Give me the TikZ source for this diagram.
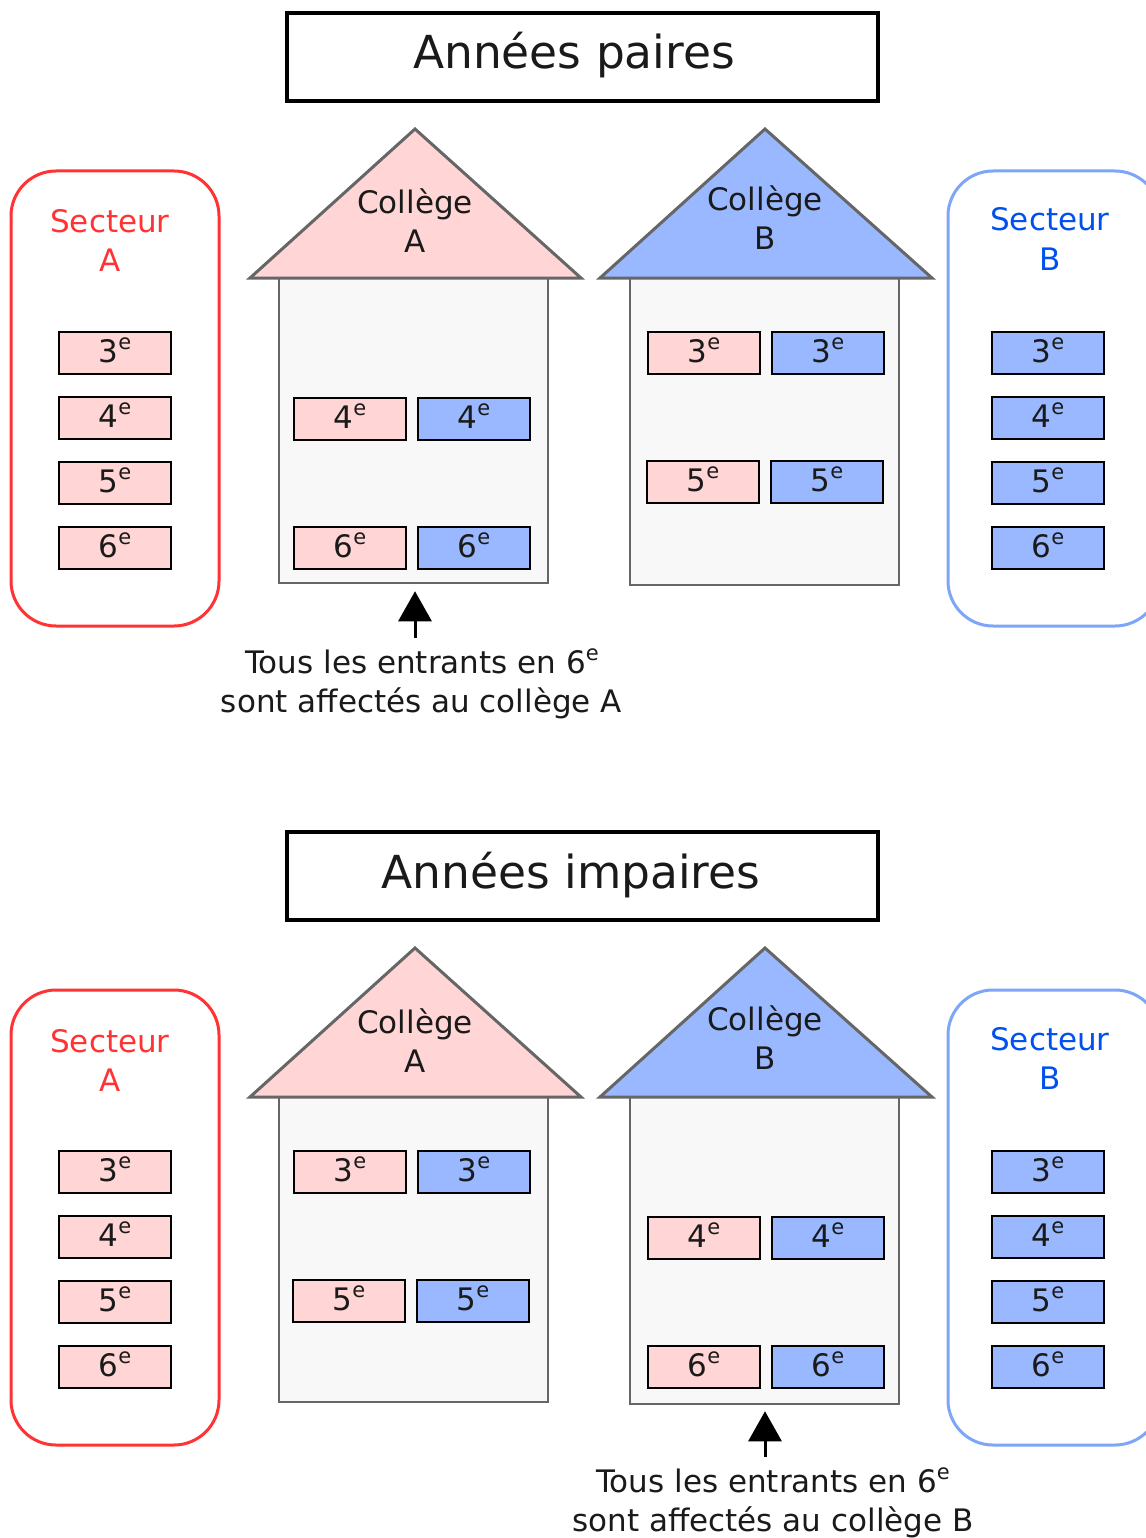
\documentclass[tikz,border=0pt]{standalone}
\usepackage{fontspec}
\setmainfont{DejaVu Sans}
\usetikzlibrary{arrows.meta}
\definecolor{pinkf}{HTML}{FFD5D5}
\definecolor{bluef}{HTML}{99B8FF}
\definecolor{redl}{HTML}{FF3333}
\definecolor{bluel}{HTML}{7EA6F8}
\definecolor{bluet}{HTML}{0050EF}
\definecolor{grayl}{HTML}{666666}
\definecolor{bodyf}{HTML}{F8F8F8}
\definecolor{txt}{HTML}{1A1A1A}
\newcommand\exps{\raisebox{12.5pt}{\fontsize{21}{21}\selectfont e}}
\tikzset{
 lvl/.style={draw=black, line width=2pt, minimum width=112pt, minimum height=42pt,
   inner sep=0pt, text height=22pt, text depth=4pt, text=txt, font=\fontsize{31}{37}\selectfont},
 pk/.style={lvl, fill=pinkf},
 bl/.style={lvl, fill=bluef},
 titlebox/.style={draw=black, line width=4pt, minimum width=591pt, minimum height=88pt, inner sep=0pt},
 titletxt/.style={anchor=base, inner sep=0pt, text=txt, font=\fontsize{45.5}{54}\selectfont},
 secA/.style={draw=redl, line width=3pt, rounded corners=45pt, minimum width=208pt, minimum height=455pt},
 secB/.style={draw=bluel, line width=3pt, rounded corners=45pt, minimum width=212pt, minimum height=455pt},
 lab/.style={anchor=base, inner sep=0pt, font=\fontsize{31}{37}\selectfont},
 redtxt/.style={lab, text=redl},
 bluetxt/.style={lab, text=bluet},
 blacktxt/.style={lab, text=txt},
 body/.style={draw=grayl, line width=2.5pt, fill=bodyf, minimum width=269pt, inner sep=0pt},
 roof/.style={draw=grayl, line width=3pt, line join=miter},
 arr/.style={line width=3pt, -{Triangle[width=33pt,length=30pt]}},
}
\begin{document}
\begin{tikzpicture}[x=1pt,y=-1pt]
\useasboundingbox[fill=white] (0,0) rectangle (1145,1538);

% ================= Top half =================
\node[titlebox] (t1) at (582.5,57) {};
\node[titletxt] (t1t) at (574,69) {Années paires};

\node[secA] (sA1) at (115,398.5) {};
\node[redtxt] (sA1a) at (110,233) {Secteur};
\node[redtxt] (sA1b) at (110,272) {A};
\node[pk] (sA1c3) at (115,353) {3\exps};
\node[pk] (sA1c4) at (115,418) {4\exps};
\node[pk] (sA1c5) at (115,483) {5\exps};
\node[pk] (sA1c6) at (115,548) {6\exps};

\node[secB] (sB1) at (1054,398.5) {};
\node[bluetxt] (sB1a) at (1050,231) {Secteur};
\node[bluetxt] (sB1b) at (1050,270) {B};
\node[bl] (sB1c3) at (1048,353) {3\exps};
\node[bl] (sB1c4) at (1048,418) {4\exps};
\node[bl] (sB1c5) at (1048,483) {5\exps};
\node[bl] (sB1c6) at (1048,548) {6\exps};

\node[body, minimum height=305pt] (bA1) at (413.5,430.5) {};
\draw[roof, fill=pinkf] (250,278) -- (415,129) -- (581,278) -- cycle;
\node[blacktxt] (cA1a) at (415,214) {Collège};
\node[blacktxt] (cA1b) at (415,253) {A};
\node[pk] (hA1p4) at (350,419) {4\exps};
\node[bl] (hA1b4) at (474,419) {4\exps};
\node[pk] (hA1p6) at (350,548) {6\exps};
\node[bl] (hA1b6) at (474,548) {6\exps};

\node[body, minimum height=307pt] (bB1) at (764.5,431.5) {};
\draw[roof, fill=bluef] (600,278) -- (765,129) -- (932,278) -- cycle;
\node[blacktxt] (cB1a) at (765,211) {Collège};
\node[blacktxt] (cB1b) at (765,250) {B};
\node[pk] (hB1p3) at (704,353) {3\exps};
\node[bl] (hB1b3) at (828,353) {3\exps};
\node[pk] (hB1p5) at (703,482) {5\exps};
\node[bl] (hB1b5) at (827,482) {5\exps};

\coordinate (a1) at (415,638);
\draw[arr, shorten >=7pt] (a1) -- (a1 |- bA1.south);
\node[blacktxt] (n1a) at (422,673) {Tous les entrants en 6\exps};
\node[blacktxt] (n1b) at (421.5,712) {sont affectés au collège A};

% ================= Bottom half =================
\node[titlebox] (t2) at (582.5,876) {};
\node[titletxt] (t2t) at (571,888) {Années impaires};

\node[secA] (sA2) at (115,1217.5) {};
\node[redtxt] (sA2a) at (110,1052) {Secteur};
\node[redtxt] (sA2b) at (110,1091) {A};
\node[pk] (sA2c3) at (115,1172) {3\exps};
\node[pk] (sA2c4) at (115,1237) {4\exps};
\node[pk] (sA2c5) at (115,1302) {5\exps};
\node[pk] (sA2c6) at (115,1367) {6\exps};

\node[secB] (sB2) at (1054,1217.5) {};
\node[bluetxt] (sB2a) at (1050,1050) {Secteur};
\node[bluetxt] (sB2b) at (1050,1089) {B};
\node[bl] (sB2c3) at (1048,1172) {3\exps};
\node[bl] (sB2c4) at (1048,1237) {4\exps};
\node[bl] (sB2c5) at (1048,1302) {5\exps};
\node[bl] (sB2c6) at (1048,1367) {6\exps};

\node[body, minimum height=305pt] (bA2) at (413.5,1249.5) {};
\draw[roof, fill=pinkf] (250,1097) -- (415,948) -- (581,1097) -- cycle;
\node[blacktxt] (cA2a) at (415,1033) {Collège};
\node[blacktxt] (cA2b) at (415,1072) {A};
\node[pk] (hA2p3) at (350,1172) {3\exps};
\node[bl] (hA2b3) at (474,1172) {3\exps};
\node[pk] (hA2p5) at (349,1301) {5\exps};
\node[bl] (hA2b5) at (473,1301) {5\exps};

\node[body, minimum height=307pt] (bB2) at (764.5,1250.5) {};
\draw[roof, fill=bluef] (600,1097) -- (765,948) -- (932,1097) -- cycle;
\node[blacktxt] (cB2a) at (765,1030) {Collège};
\node[blacktxt] (cB2b) at (765,1069) {B};
\node[pk] (hB2p4) at (704,1238) {4\exps};
\node[bl] (hB2b4) at (828,1238) {4\exps};
\node[pk] (hB2p6) at (704,1367) {6\exps};
\node[bl] (hB2b6) at (828,1367) {6\exps};

\coordinate (a2) at (765,1457);
\draw[arr, shorten >=6pt] (a2) -- (a2 |- bB2.south);
\node[blacktxt] (n2a) at (773,1492) {Tous les entrants en 6\exps};
\node[blacktxt] (n2b) at (773,1531) {sont affectés au collège B};
\end{tikzpicture}
\end{document}
